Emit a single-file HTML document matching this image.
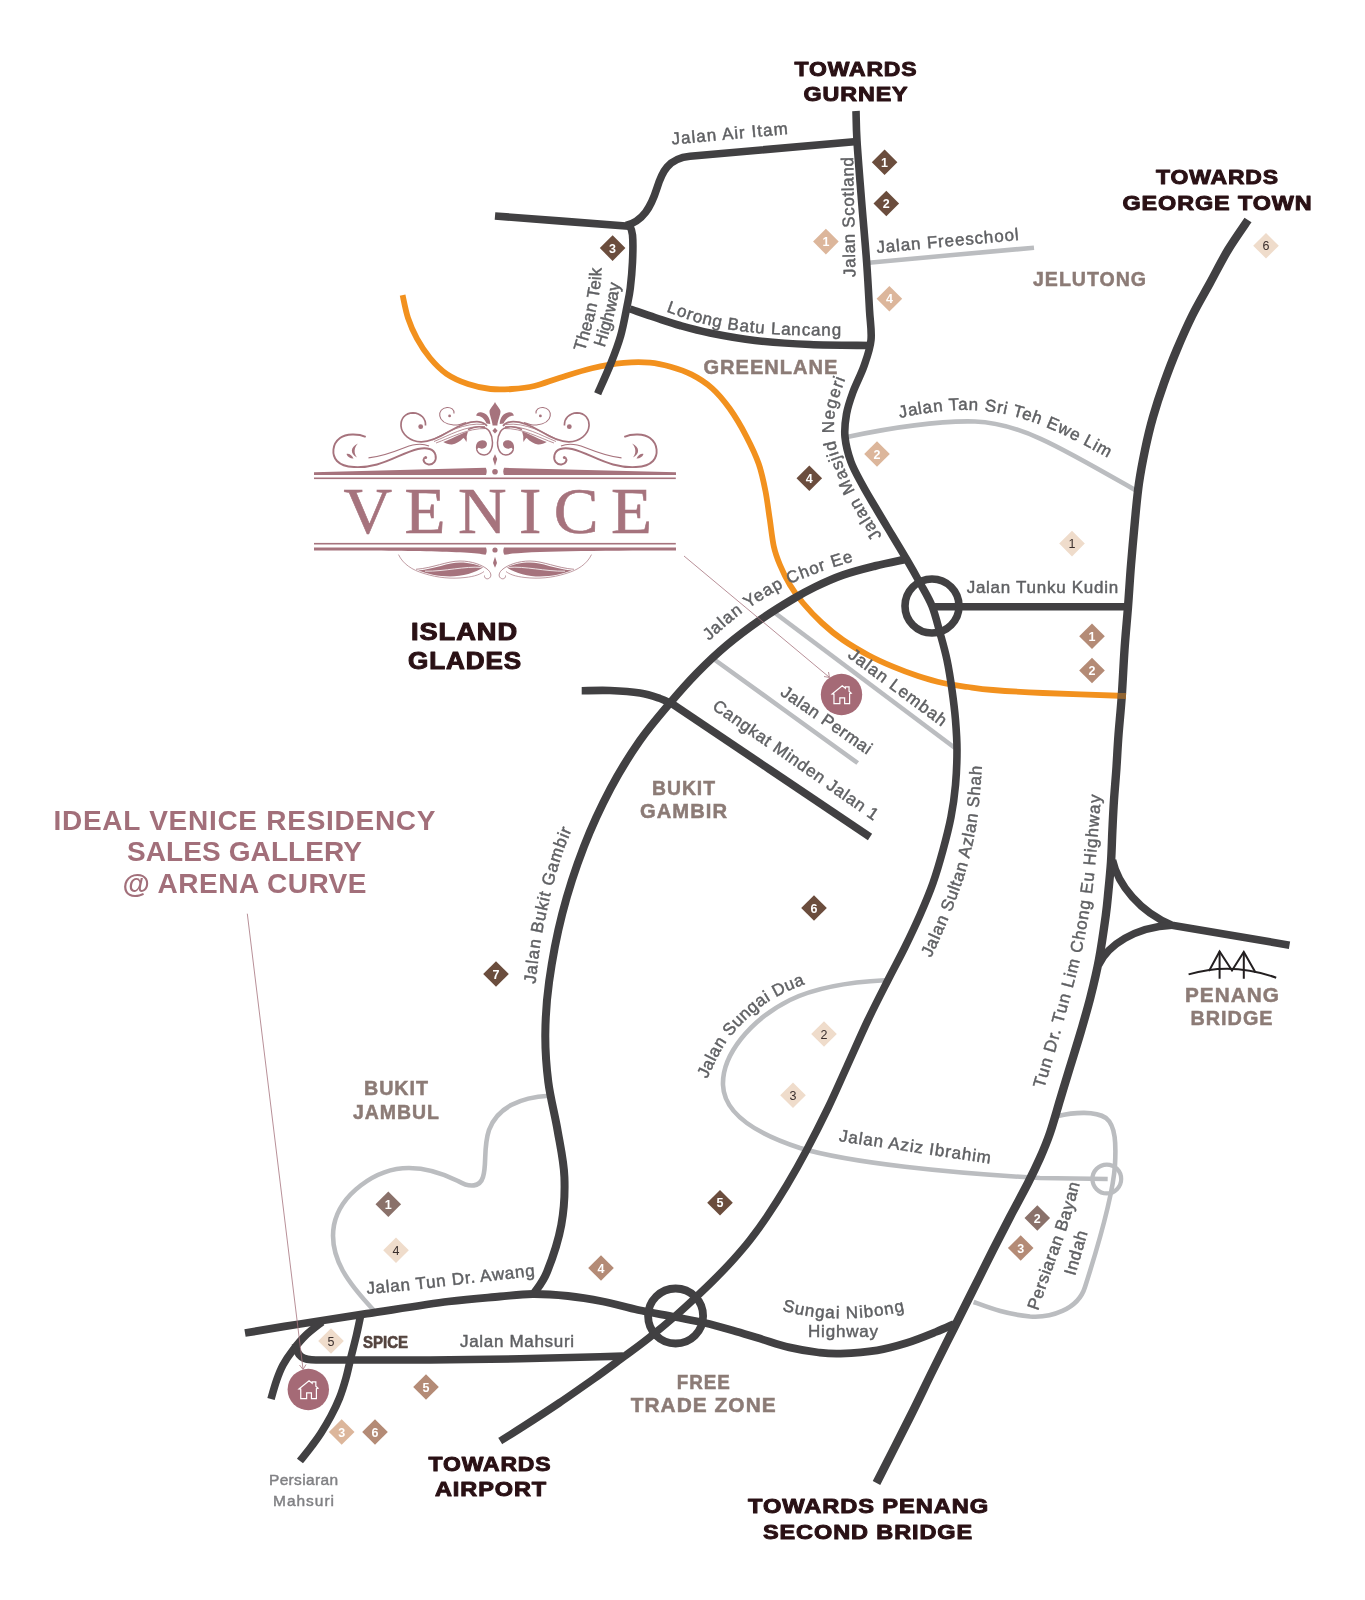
<!DOCTYPE html>
<html lang="en"><head><meta charset="utf-8"><title>Ideal Venice Residency - Location Map</title>
<style>
html,body{margin:0;padding:0;background:#fff;}
svg{display:block;font-family:"Liberation Sans",sans-serif;will-change:transform;}
</style></head><body>
<svg width="1365" height="1600" viewBox="0 0 1365 1600">
<rect width="1365" height="1600" fill="#fff"/>
<defs>
<path id="tp1" d="M666.0 311.5 C671.7 313.4 687.7 319.8 700.0 323.0 C712.3 326.2 725.0 329.0 740.0 331.0 C755.0 333.0 772.8 334.2 790.0 335.0 C807.2 335.8 834.2 335.4 843.0 335.5"/>
<path id="tp2" d="M584.5 352.0 C585.6 348.3 589.0 337.3 591.0 330.0 C593.0 322.7 594.9 315.5 596.5 308.0 C598.1 300.5 599.7 292.0 600.5 285.0 C601.3 278.0 601.3 269.2 601.5 266.0"/>
<path id="tp3" d="M604.5 347.5 C605.6 343.9 609.0 333.2 611.0 326.0 C613.0 318.8 615.0 311.2 616.5 304.0 C618.0 296.8 619.4 286.5 620.0 283.0"/>
<path id="tp4" d="M882.0 536.0 C878.7 530.7 868.2 515.0 862.0 504.0 C855.8 493.0 849.5 480.7 845.0 470.0 C840.5 459.3 836.6 450.0 835.0 440.0 C833.4 430.0 833.7 420.5 835.5 410.0 C837.3 399.5 844.2 382.5 846.0 377.0"/>
<path id="tp5" d="M899.5 418 C935 410.5 965 408 990 411.5 C1030 417 1065 434 1108 458"/>
<path id="tp6" d="M709.0 641.0 C714.5 636.3 729.8 621.8 742.0 613.0 C754.2 604.2 769.5 594.7 782.0 588.0 C794.5 581.3 805.0 577.5 817.0 573.0 C829.0 568.5 847.8 563.0 854.0 561.0"/>
<path id="tp7" d="M931.0 958.0 C934.2 950.8 944.2 929.7 950.0 915.0 C955.8 900.3 961.5 885.8 966.0 870.0 C970.5 854.2 974.3 837.5 977.0 820.0 C979.7 802.5 981.2 774.2 982.0 765.0"/>
<path id="tp8" d="M1044.0 1089.0 C1047.3 1077.5 1057.7 1043.2 1064.0 1020.0 C1070.3 996.8 1077.1 973.3 1082.0 950.0 C1086.9 926.7 1090.3 905.8 1093.5 880.0 C1096.7 854.2 1099.8 809.2 1101.0 795.0"/>
<path id="tp9" d="M535.5 984.0 C536.4 976.7 538.5 954.8 541.0 940.0 C543.5 925.2 547.0 909.2 550.5 895.0 C554.0 880.8 558.3 866.2 562.0 855.0 C565.7 843.8 570.8 832.5 572.5 828.0"/>
<path id="tp10" d="M707.0 1079.0 C710.3 1072.7 718.7 1052.5 727.0 1041.0 C735.3 1029.5 747.8 1017.8 757.0 1010.0 C766.2 1002.2 773.5 998.5 782.0 994.0 C790.5 989.5 803.7 984.8 808.0 983.0"/>
<path id="tp11" d="M367.0 1294.0 C375.8 1293.2 401.2 1291.0 420.0 1289.0 C438.8 1287.0 460.8 1284.2 480.0 1282.0 C499.2 1279.8 525.8 1277.0 535.0 1276.0"/>
<path id="tp12" d="M782 1310.5 Q838 1326 905 1311"/>
<path id="tp13" d="M1038.0 1311.0 C1040.3 1304.2 1047.0 1284.3 1052.0 1270.0 C1057.0 1255.7 1063.3 1239.5 1068.0 1225.0 C1072.7 1210.5 1078.0 1190.0 1080.0 1183.0"/>
<path id="tp14" d="M1075.0 1276.0 C1077.2 1268.5 1085.8 1238.5 1088.0 1231.0"/>
</defs>
<path d="M866.0 263.0 C894.0 260.4 1006.0 250.2 1034.0 247.7" fill="none" stroke="#bbbdc0" stroke-width="4.6" stroke-linecap="butt" stroke-linejoin="round"/>
<path d="M847 437 C890 428 940 420.5 975 421.5 C1020 423 1060 447 1136 490.5" fill="none" stroke="#bbbdc0" stroke-width="4.6" stroke-linecap="butt" stroke-linejoin="round"/>
<path d="M775.0 613.0 C805.0 635.5 925.0 725.5 955.0 748.0" fill="none" stroke="#bbbdc0" stroke-width="4.6" stroke-linecap="butt" stroke-linejoin="round"/>
<path d="M715.0 660.0 C738.8 677.2 833.9 745.8 857.7 763.0" fill="none" stroke="#bbbdc0" stroke-width="4.6" stroke-linecap="butt" stroke-linejoin="round"/>
<path d="M885 980.3 C850 982 815 988 790 1000 C750 1020 722 1055 723 1085 C724 1115 760 1135 800 1148 C850 1163 950 1173 1040 1178 L1107.7 1179" fill="none" stroke="#bbbdc0" stroke-width="4.6" stroke-linecap="butt" stroke-linejoin="round"/>
<path d="M1057 1116.3 C1075 1112 1095 1111 1106 1118 C1116 1126 1116 1145 1115 1165 C1113 1195 1100 1240 1085 1287 C1078 1310 1050 1318 1030 1316.5 C1005 1314 990 1308 973.6 1302" fill="none" stroke="#bbbdc0" stroke-width="4.6" stroke-linecap="butt" stroke-linejoin="round"/>
<circle cx="1106.8" cy="1179" r="14.4" fill="none" stroke="#bbbdc0" stroke-width="4.2"/>
<path d="M549 1095.7 C520 1097 497 1108 489 1130 C483 1148 487 1165 483 1177 C480 1187 470 1188 458 1181 C440 1172 425 1168 409 1168 C375 1168 340 1195 334 1225 C328 1258 350 1285 373.5 1310" fill="none" stroke="#bbbdc0" stroke-width="4.6" stroke-linecap="butt" stroke-linejoin="round"/>
<path d="M402.6 295.2 C403.5 299.0 405.6 310.8 408.0 318.0 C410.4 325.2 413.3 331.9 417.0 338.6 C420.7 345.3 425.1 352.1 430.0 358.0 C434.9 363.9 440.2 369.5 446.5 373.8 C452.8 378.1 460.7 381.5 468.0 384.0 C475.3 386.5 483.2 388.2 490.5 389.0 C497.8 389.8 504.7 389.5 512.0 389.0 C519.3 388.5 526.4 387.9 534.4 386.0 C542.4 384.1 550.4 380.7 560.0 377.7 C569.6 374.7 581.4 370.7 592.0 368.2 C602.6 365.7 614.1 363.7 623.8 362.8 C633.5 361.9 642.2 361.9 650.0 362.6 C657.8 363.3 663.7 364.8 670.6 366.8 C677.5 368.8 684.4 370.8 691.3 374.4 C698.2 377.9 705.5 382.4 711.9 388.1 C718.3 393.8 724.1 400.8 729.8 408.8 C735.5 416.8 741.5 427.1 746.3 436.3 C751.1 445.5 755.5 454.6 758.7 463.8 C761.9 473.0 763.7 482.1 765.5 491.3 C767.3 500.5 768.3 509.6 769.7 518.8 C771.1 528.0 772.1 538.6 773.8 546.3 C775.5 554.0 777.3 558.5 780.0 565.0 C782.7 571.5 786.2 578.7 790.0 585.0 C793.8 591.3 797.7 596.7 803.0 603.0 C808.3 609.3 815.3 616.8 822.0 623.0 C828.7 629.2 835.3 634.7 843.0 640.0 C850.7 645.3 859.7 650.5 868.0 655.0 C876.3 659.5 884.7 663.2 893.0 666.7 C901.3 670.2 909.7 673.3 918.0 676.0 C926.3 678.7 934.7 681.2 943.0 683.0 C951.3 684.8 959.7 685.8 968.0 687.0 C976.3 688.2 980.5 689.0 993.0 690.0 C1005.5 691.0 1020.8 692.0 1043.0 693.0 C1065.2 694.0 1112.2 695.5 1126.0 696.0" fill="none" stroke="#f2911e" stroke-width="5.8" stroke-linecap="butt" stroke-linejoin="round"/>
<path d="M856.0 111.0 C856.2 116.0 856.1 126.2 857.0 141.0 C857.9 155.8 859.9 179.7 861.5 200.0 C863.1 220.3 865.4 244.7 866.7 263.0 C868.0 281.3 868.8 297.2 869.5 310.0 C870.2 322.8 871.9 330.7 871.0 340.0 C870.1 349.3 867.0 357.3 864.0 366.0 C861.0 374.7 855.9 384.0 853.0 392.0 C850.1 400.0 847.8 406.5 846.5 414.0 C845.2 421.5 844.2 429.0 845.0 437.0 C845.8 445.0 848.0 453.8 851.0 462.0 C854.0 470.2 858.7 478.0 863.0 486.0 C867.3 494.0 872.2 501.8 877.0 510.0 C881.8 518.2 887.0 526.7 892.0 535.0 C897.0 543.3 902.3 552.0 907.0 560.0 C911.7 568.0 915.8 575.3 920.0 583.0 C924.2 590.7 928.7 597.7 932.0 606.0 C935.3 614.3 937.5 624.0 940.0 633.0 C942.5 642.0 945.0 650.5 947.0 660.0 C949.0 669.5 950.6 680.0 952.0 690.0 C953.4 700.0 954.7 710.0 955.5 720.0 C956.3 730.0 957.0 739.2 957.0 750.0 C957.0 760.8 956.5 773.8 955.5 785.0 C954.5 796.2 953.1 806.2 951.0 817.0 C948.9 827.8 946.0 839.0 943.0 850.0 C940.0 861.0 936.8 872.2 933.0 883.0 C929.2 893.8 924.7 904.3 920.0 915.0 C915.3 925.7 910.3 936.2 905.0 947.0 C899.7 957.8 894.2 967.8 888.0 980.0 C881.8 992.2 874.9 1005.5 868.0 1020.0 C861.1 1034.5 853.4 1052.3 846.7 1067.0 C840.0 1081.7 834.7 1094.2 828.0 1108.0 C821.3 1121.8 813.5 1137.2 806.7 1150.0 C799.9 1162.8 793.7 1173.8 787.0 1185.0 C780.3 1196.2 772.9 1207.8 766.7 1217.0 C760.5 1226.2 755.6 1232.8 750.0 1240.0 C744.4 1247.2 739.0 1253.3 733.0 1260.0 C727.0 1266.7 720.3 1273.5 713.8 1280.0 C707.3 1286.5 700.4 1293.0 694.0 1299.0 C687.6 1305.0 682.8 1309.5 675.3 1316.0 C667.8 1322.5 657.3 1331.2 648.8 1338.0 C640.3 1344.8 633.3 1349.8 624.2 1356.5 C615.1 1363.2 605.1 1370.8 594.3 1378.5 C583.4 1386.2 570.8 1395.1 559.1 1403.0 C547.4 1410.9 533.8 1419.7 524.0 1426.0 C514.2 1432.3 504.2 1438.5 500.2 1441.0" fill="none" stroke="#414042" stroke-width="7.6" stroke-linecap="butt" stroke-linejoin="round"/>
<path d="M857 141.5 L690 156.3 C668 158.5 662 172 657 188 C651 207 643 221 626 225.5" fill="none" stroke="#414042" stroke-width="7.6" stroke-linecap="butt" stroke-linejoin="round"/>
<path d="M495.0 216.0 C517.3 217.7 606.7 224.6 629.0 226.3" fill="none" stroke="#414042" stroke-width="7.6" stroke-linecap="butt" stroke-linejoin="round"/>
<path d="M629.0 224.0 C629.6 225.8 631.9 228.7 632.5 235.0 C633.1 241.3 632.9 253.2 632.5 262.0 C632.1 270.8 631.2 280.6 630.3 288.0 C629.4 295.4 628.6 298.5 627.0 306.5 C625.4 314.5 623.3 326.6 620.6 336.0 C617.9 345.4 614.8 353.4 611.0 363.0 C607.2 372.6 599.9 388.6 597.7 393.7" fill="none" stroke="#414042" stroke-width="7.6" stroke-linecap="butt" stroke-linejoin="round"/>
<path d="M630.0 309.0 C634.2 310.4 646.7 314.8 655.0 317.5 C663.3 320.2 670.8 322.9 680.0 325.5 C689.2 328.1 697.5 330.5 710.0 333.0 C722.5 335.5 738.3 338.6 755.0 340.5 C771.7 342.4 790.7 343.7 810.0 344.5 C829.3 345.3 860.8 345.3 871.0 345.5" fill="none" stroke="#414042" stroke-width="7.6" stroke-linecap="butt" stroke-linejoin="round"/>
<path d="M907.0 559.0 C901.7 560.2 885.7 563.3 875.0 566.0 C864.3 568.7 853.0 571.5 843.0 575.0 C833.0 578.5 823.3 583.0 815.0 587.0 C806.7 591.0 802.2 593.5 793.0 599.0 C783.8 604.5 771.0 612.3 760.0 620.0 C749.0 627.7 737.5 636.2 727.0 645.0 C716.5 653.8 706.5 663.3 697.0 673.0 C687.5 682.7 679.6 691.7 670.0 703.0 C660.4 714.3 649.5 726.8 639.6 741.0 C629.7 755.2 619.9 770.8 610.6 788.4 C601.3 806.0 592.1 825.5 584.0 846.4 C575.9 867.3 568.0 891.4 562.2 914.0 C556.4 936.6 551.9 961.6 549.1 981.8 C546.3 1002.0 545.4 1018.3 545.3 1035.0 C545.2 1051.7 546.3 1066.2 548.3 1082.0 C550.3 1097.8 554.8 1114.2 557.5 1130.0 C560.2 1145.8 563.8 1161.2 564.4 1177.0 C565.0 1192.8 564.2 1209.2 561.3 1225.0 C558.4 1240.8 551.5 1260.8 547.0 1272.0 C542.5 1283.2 536.6 1289.1 534.5 1292.5" fill="none" stroke="#414042" stroke-width="8" stroke-linecap="butt" stroke-linejoin="round"/>
<path d="M581.7 690.7 C586.4 690.7 600.3 690.1 610.0 690.5 C619.7 690.9 631.7 691.7 640.0 693.0 C648.3 694.3 654.7 696.7 660.0 698.5 C665.3 700.3 670.0 703.1 672.0 704.0" fill="none" stroke="#414042" stroke-width="7.6" stroke-linecap="butt" stroke-linejoin="round"/>
<path d="M668.0 701.0 C701.7 723.7 836.3 814.3 870.0 837.0" fill="none" stroke="#414042" stroke-width="7.6" stroke-linecap="butt" stroke-linejoin="round"/>
<path d="M932.0 606.8 C964.7 606.8 1095.3 606.8 1128.0 606.8" fill="none" stroke="#414042" stroke-width="7.4" stroke-linecap="butt" stroke-linejoin="round"/>
<circle cx="932" cy="606" r="27" fill="none" stroke="#414042" stroke-width="7.6"/>
<path d="M1248.0 220.0 C1244.7 225.0 1234.3 239.5 1228.0 250.0 C1221.7 260.5 1216.0 272.0 1210.0 283.0 C1204.0 294.0 1197.5 304.8 1192.0 316.0 C1186.5 327.2 1181.4 338.8 1176.7 350.0 C1172.0 361.2 1168.0 371.8 1164.0 383.0 C1160.0 394.2 1156.2 405.8 1153.0 417.0 C1149.8 428.2 1147.3 439.0 1145.0 450.0 C1142.7 461.0 1140.7 471.3 1139.0 483.0 C1137.3 494.7 1136.3 506.3 1135.0 520.0 C1133.7 533.7 1132.2 550.5 1131.0 565.0 C1129.8 579.5 1129.1 592.8 1128.0 607.0 C1126.9 621.2 1125.5 635.0 1124.5 650.0 C1123.5 665.0 1122.7 682.8 1121.7 697.0 C1120.7 711.2 1119.4 723.3 1118.5 735.0 C1117.6 746.7 1117.2 756.2 1116.5 767.0 C1115.8 777.8 1114.7 789.5 1114.0 800.0 C1113.3 810.5 1112.9 819.7 1112.4 830.0 C1111.9 840.3 1111.7 852.0 1111.0 862.0 C1110.3 872.0 1109.4 881.0 1108.5 890.0 C1107.6 899.0 1107.3 904.4 1105.7 916.0 C1104.1 927.6 1101.5 946.0 1099.0 959.5 C1096.5 973.0 1093.5 985.1 1090.5 997.0 C1087.5 1008.9 1084.4 1019.3 1081.0 1031.0 C1077.6 1042.7 1073.5 1055.5 1070.0 1067.0 C1066.5 1078.5 1063.3 1089.0 1060.0 1100.0 C1056.7 1111.0 1053.3 1123.3 1050.0 1133.0 C1046.7 1142.7 1043.7 1149.7 1040.0 1158.0 C1036.3 1166.3 1033.0 1173.2 1028.0 1183.0 C1023.0 1192.8 1015.8 1205.8 1010.0 1217.0 C1004.2 1228.2 999.2 1237.8 993.0 1250.0 C986.8 1262.2 979.7 1276.7 973.0 1290.0 C966.3 1303.3 959.7 1316.7 953.0 1330.0 C946.3 1343.3 940.2 1355.5 933.0 1370.0 C925.8 1384.5 919.4 1398.2 910.0 1417.0 C900.6 1435.8 882.1 1472.0 876.5 1483.0" fill="none" stroke="#414042" stroke-width="8.4" stroke-linecap="butt" stroke-linejoin="round"/>
<path d="M1112.5 860 C1118 885 1140 912 1172 925.2 L1289.5 945.2" fill="none" stroke="#414042" stroke-width="7.6" stroke-linecap="butt" stroke-linejoin="round"/>
<path d="M1098.5 965 C1108 945 1135 927 1172 925.2" fill="none" stroke="#414042" stroke-width="7.6" stroke-linecap="butt" stroke-linejoin="round"/>
<path d="M245.0 1333.0 C254.2 1331.5 279.7 1327.2 300.0 1324.0 C320.3 1320.8 342.0 1317.5 366.7 1313.7 C391.4 1310.0 426.2 1304.4 448.4 1301.5 C470.6 1298.6 485.9 1297.8 500.0 1296.5 C514.0 1295.2 521.4 1294.1 532.7 1294.0 C544.0 1293.9 556.3 1294.8 568.0 1296.0 C579.7 1297.2 591.3 1299.2 603.0 1301.5 C614.7 1303.8 626.2 1307.4 638.2 1310.0 C650.2 1312.6 663.9 1314.8 675.0 1317.0 C686.1 1319.2 695.3 1320.8 705.0 1323.0 C714.7 1325.2 723.8 1327.9 733.0 1330.5 C742.2 1333.1 750.6 1335.8 760.0 1338.6 C769.4 1341.4 779.5 1345.1 789.3 1347.4 C799.1 1349.7 810.0 1351.5 818.6 1352.5 C827.2 1353.5 830.8 1354.0 840.6 1353.6 C850.4 1353.2 866.2 1352.1 877.2 1350.3 C888.2 1348.5 896.7 1346.0 906.5 1343.0 C916.3 1340.0 927.9 1335.2 935.8 1332.0 C943.7 1328.8 951.0 1325.3 954.0 1324.0" fill="none" stroke="#414042" stroke-width="7.8" stroke-linecap="butt" stroke-linejoin="round"/>
<circle cx="675.6" cy="1316" r="27.5" fill="none" stroke="#414042" stroke-width="7.8"/>
<path d="M322.0 1322.0 C319.2 1324.3 309.8 1331.3 305.0 1336.0 C300.2 1340.7 296.7 1345.2 293.0 1350.0 C289.3 1354.8 285.7 1360.0 283.0 1365.0 C280.3 1370.0 278.7 1374.3 276.7 1380.0 C274.7 1385.7 271.9 1395.8 271.0 1399.0" fill="none" stroke="#414042" stroke-width="7.6" stroke-linecap="butt" stroke-linejoin="round"/>
<path d="M295.5 1344 C297 1357 303 1360 316 1360 L430 1360 L520 1358.8 L600 1356.8 L623 1356.1" fill="none" stroke="#414042" stroke-width="7.6" stroke-linecap="butt" stroke-linejoin="round"/>
<path d="M361.0 1314.0 C360.2 1317.5 358.2 1327.8 356.5 1335.0 C354.8 1342.2 352.8 1349.8 351.0 1357.0 C349.2 1364.2 347.9 1371.2 346.0 1378.0 C344.1 1384.8 342.0 1391.7 339.5 1398.0 C337.0 1404.3 334.1 1410.2 331.0 1416.0 C327.9 1421.8 324.3 1427.8 321.0 1433.0 C317.7 1438.2 314.5 1442.3 311.0 1447.0 C307.5 1451.7 301.8 1458.7 300.0 1461.0" fill="none" stroke="#414042" stroke-width="7.6" stroke-linecap="butt" stroke-linejoin="round"/>
<path d="M1117.5 695.8 L1126 696" stroke="#f2911e" stroke-width="5.8" opacity="0.45" fill="none"/>
<path d="M684 556 L829 677" stroke="#a6737d" stroke-width="0.8" fill="none"/>
<path d="M824 676.5 L829.5 677.5 L828.5 672" stroke="#a6737d" stroke-width="0.8" fill="none"/>
<path d="M247.3 913.7 L303 1369" stroke="#a6737d" stroke-width="0.8" fill="none"/>
<path d="M299.5 1365 L303 1369.5 L306 1364.5" stroke="#a6737d" stroke-width="0.8" fill="none"/>
<circle cx="841.5" cy="694.5" r="20.7" fill="#a56a76"/>
<path transform="translate(841.5 694.5) scale(0.92)" d="M-10.2 -0.6 L0.8 -9.6 L4.2 -6.8 L4.2 -8.2 L8.2 -8.2 L8.2 -3.5 L10.6 -1.4 L8.8 -0.8 L8.8 10 L3.4 10 L3.4 3.6 L-1.8 3.6 L-1.8 10 L-8.2 10 L-8.2 -0.4 Z" fill="none" stroke="#fff" stroke-width="1.3" stroke-linejoin="miter"/>
<circle cx="308.3" cy="1389.5" r="20.7" fill="#a56a76"/>
<path transform="translate(308.3 1389.5) scale(0.92)" d="M-10.2 -0.6 L0.8 -9.6 L4.2 -6.8 L4.2 -8.2 L8.2 -8.2 L8.2 -3.5 L10.6 -1.4 L8.8 -0.8 L8.8 10 L3.4 10 L3.4 3.6 L-1.8 3.6 L-1.8 10 L-8.2 10 L-8.2 -0.4 Z" fill="none" stroke="#fff" stroke-width="1.3" stroke-linejoin="miter"/>
<path d="M884.6 149.5 L897.4 162.3 L884.6 175.1 L871.8 162.3Z" fill="#6b4d3d"/>
<text x="884.6" y="166.8" font-size="12.5" fill="#ffffff" font-weight="bold" text-anchor="middle">1</text>
<path d="M886.3 190.7 L899.1 203.5 L886.3 216.3 L873.5 203.5Z" fill="#6b4d3d"/>
<text x="886.3" y="208.0" font-size="12.5" fill="#ffffff" font-weight="bold" text-anchor="middle">2</text>
<path d="M612.6 235.3 L625.4 248.1 L612.6 260.9 L599.8 248.1Z" fill="#6b4d3d"/>
<text x="612.6" y="252.6" font-size="12.5" fill="#ffffff" font-weight="bold" text-anchor="middle">3</text>
<path d="M825.9 228.8 L838.7 241.6 L825.9 254.4 L813.1 241.6Z" fill="#dcb69b"/>
<text x="825.9" y="246.1" font-size="12.5" fill="#ffffff" font-weight="bold" text-anchor="middle">1</text>
<path d="M889.4 286.0 L902.2 298.8 L889.4 311.6 L876.6 298.8Z" fill="#dcb69b"/>
<text x="889.4" y="303.3" font-size="12.5" fill="#ffffff" font-weight="bold" text-anchor="middle">4</text>
<path d="M1266.0 232.9 L1278.8 245.7 L1266.0 258.5 L1253.2 245.7Z" fill="#efdccb"/>
<text x="1266.0" y="250.2" font-size="12.5" fill="#3a2e2c" font-weight="normal" text-anchor="middle">6</text>
<path d="M809.3 465.5 L822.1 478.3 L809.3 491.1 L796.5 478.3Z" fill="#6b4d3d"/>
<text x="809.3" y="482.8" font-size="12.5" fill="#ffffff" font-weight="bold" text-anchor="middle">4</text>
<path d="M877.0 441.2 L889.8 454.0 L877.0 466.8 L864.2 454.0Z" fill="#dcb69b"/>
<text x="877.0" y="458.5" font-size="12.5" fill="#ffffff" font-weight="bold" text-anchor="middle">2</text>
<path d="M1072.0 530.8 L1084.8 543.6 L1072.0 556.4 L1059.2 543.6Z" fill="#efdccb"/>
<text x="1072.0" y="548.1" font-size="12.5" fill="#3a2e2c" font-weight="normal" text-anchor="middle">1</text>
<path d="M1092.0 623.4 L1104.8 636.2 L1092.0 649.0 L1079.2 636.2Z" fill="#b48b76"/>
<text x="1092.0" y="640.7" font-size="12.5" fill="#ffffff" font-weight="bold" text-anchor="middle">1</text>
<path d="M1092.0 657.7 L1104.8 670.5 L1092.0 683.3 L1079.2 670.5Z" fill="#b48b76"/>
<text x="1092.0" y="675.0" font-size="12.5" fill="#ffffff" font-weight="bold" text-anchor="middle">2</text>
<path d="M814.0 895.2 L826.8 908.0 L814.0 920.8 L801.2 908.0Z" fill="#6b4d3d"/>
<text x="814.0" y="912.5" font-size="12.5" fill="#ffffff" font-weight="bold" text-anchor="middle">6</text>
<path d="M496.0 961.2 L508.8 974.0 L496.0 986.8 L483.2 974.0Z" fill="#6b4d3d"/>
<text x="496.0" y="978.5" font-size="12.5" fill="#ffffff" font-weight="bold" text-anchor="middle">7</text>
<path d="M824.0 1021.2 L836.8 1034.0 L824.0 1046.8 L811.2 1034.0Z" fill="#efdccb"/>
<text x="824.0" y="1038.5" font-size="12.5" fill="#3a2e2c" font-weight="normal" text-anchor="middle">2</text>
<path d="M793.0 1082.5 L805.8 1095.3 L793.0 1108.1 L780.2 1095.3Z" fill="#efdccb"/>
<text x="793.0" y="1099.8" font-size="12.5" fill="#3a2e2c" font-weight="normal" text-anchor="middle">3</text>
<path d="M720.0 1189.9 L732.8 1202.7 L720.0 1215.5 L707.2 1202.7Z" fill="#6b4d3d"/>
<text x="720.0" y="1207.2" font-size="12.5" fill="#ffffff" font-weight="bold" text-anchor="middle">5</text>
<path d="M1037.3 1205.2 L1050.1 1218.0 L1037.3 1230.8 L1024.5 1218.0Z" fill="#8a716a"/>
<text x="1037.3" y="1222.5" font-size="12.5" fill="#ffffff" font-weight="bold" text-anchor="middle">2</text>
<path d="M1020.7 1235.2 L1033.5 1248.0 L1020.7 1260.8 L1007.9 1248.0Z" fill="#b48b76"/>
<text x="1020.7" y="1252.5" font-size="12.5" fill="#ffffff" font-weight="bold" text-anchor="middle">3</text>
<path d="M601.0 1255.2 L613.8 1268.0 L601.0 1280.8 L588.2 1268.0Z" fill="#b48b76"/>
<text x="601.0" y="1272.5" font-size="12.5" fill="#ffffff" font-weight="bold" text-anchor="middle">4</text>
<path d="M388.3 1191.5 L401.1 1204.3 L388.3 1217.1 L375.5 1204.3Z" fill="#8a716a"/>
<text x="388.3" y="1208.8" font-size="12.5" fill="#ffffff" font-weight="bold" text-anchor="middle">1</text>
<path d="M396.0 1237.5 L408.8 1250.3 L396.0 1263.1 L383.2 1250.3Z" fill="#efdccb"/>
<text x="396.0" y="1254.8" font-size="12.5" fill="#3a2e2c" font-weight="normal" text-anchor="middle">4</text>
<path d="M331.0 1328.2 L343.8 1341.0 L331.0 1353.8 L318.2 1341.0Z" fill="#efdccb"/>
<text x="331.0" y="1345.5" font-size="12.5" fill="#3a2e2c" font-weight="normal" text-anchor="middle">5</text>
<path d="M426.0 1374.2 L438.8 1387.0 L426.0 1399.8 L413.2 1387.0Z" fill="#b48b76"/>
<text x="426.0" y="1391.5" font-size="12.5" fill="#ffffff" font-weight="bold" text-anchor="middle">5</text>
<path d="M341.7 1419.2 L354.5 1432.0 L341.7 1444.8 L328.9 1432.0Z" fill="#dcb69b"/>
<text x="341.7" y="1436.5" font-size="12.5" fill="#ffffff" font-weight="bold" text-anchor="middle">3</text>
<path d="M375.0 1419.2 L387.8 1432.0 L375.0 1444.8 L362.2 1432.0Z" fill="#b48b76"/>
<text x="375.0" y="1436.5" font-size="12.5" fill="#ffffff" font-weight="bold" text-anchor="middle">6</text>
<text x="856" y="76" font-size="21" fill="#2a1115" font-weight="bold" text-anchor="middle" textLength="123" lengthAdjust="spacingAndGlyphs" letter-spacing="0.8" stroke="#2a1115" stroke-width="1" stroke-linejoin="round">TOWARDS</text>
<text x="856" y="101" font-size="21" fill="#2a1115" font-weight="bold" text-anchor="middle" textLength="105" lengthAdjust="spacingAndGlyphs" letter-spacing="0.8" stroke="#2a1115" stroke-width="1" stroke-linejoin="round">GURNEY</text>
<text x="1217.5" y="183.5" font-size="21" fill="#2a1115" font-weight="bold" text-anchor="middle" textLength="123" lengthAdjust="spacingAndGlyphs" letter-spacing="0.8" stroke="#2a1115" stroke-width="1" stroke-linejoin="round">TOWARDS</text>
<text x="1217.5" y="209.5" font-size="21" fill="#2a1115" font-weight="bold" text-anchor="middle" textLength="190" lengthAdjust="spacingAndGlyphs" letter-spacing="0.8" stroke="#2a1115" stroke-width="1" stroke-linejoin="round">GEORGE TOWN</text>
<text x="464.5" y="640" font-size="23" fill="#2a1115" font-weight="bold" text-anchor="middle" textLength="107" lengthAdjust="spacingAndGlyphs" letter-spacing="0.8" stroke="#2a1115" stroke-width="1" stroke-linejoin="round">ISLAND</text>
<text x="465" y="669" font-size="23" fill="#2a1115" font-weight="bold" text-anchor="middle" textLength="114" lengthAdjust="spacingAndGlyphs" letter-spacing="0.8" stroke="#2a1115" stroke-width="1" stroke-linejoin="round">GLADES</text>
<text x="490" y="1471" font-size="21" fill="#2a1115" font-weight="bold" text-anchor="middle" textLength="123" lengthAdjust="spacingAndGlyphs" letter-spacing="0.8" stroke="#2a1115" stroke-width="1" stroke-linejoin="round">TOWARDS</text>
<text x="491" y="1496" font-size="21" fill="#2a1115" font-weight="bold" text-anchor="middle" textLength="112" lengthAdjust="spacingAndGlyphs" letter-spacing="0.8" stroke="#2a1115" stroke-width="1" stroke-linejoin="round">AIRPORT</text>
<text x="868.5" y="1513" font-size="21" fill="#2a1115" font-weight="bold" text-anchor="middle" textLength="241" lengthAdjust="spacingAndGlyphs" letter-spacing="0.8" stroke="#2a1115" stroke-width="1" stroke-linejoin="round">TOWARDS PENANG</text>
<text x="868" y="1538.7" font-size="21" fill="#2a1115" font-weight="bold" text-anchor="middle" textLength="210" lengthAdjust="spacingAndGlyphs" letter-spacing="0.8" stroke="#2a1115" stroke-width="1" stroke-linejoin="round">SECOND BRIDGE</text>
<text x="1090" y="286" font-size="20" fill="#8c7b76" font-weight="bold" text-anchor="middle" textLength="114" lengthAdjust="spacingAndGlyphs" letter-spacing="1" stroke="#8c7b76" stroke-width="0.5">JELUTONG</text>
<text x="771" y="374" font-size="20" fill="#8c7b76" font-weight="bold" text-anchor="middle" textLength="135" lengthAdjust="spacingAndGlyphs" letter-spacing="1" stroke="#8c7b76" stroke-width="0.5">GREENLANE</text>
<text x="684" y="795" font-size="20" fill="#8c7b76" font-weight="bold" text-anchor="middle" textLength="64" lengthAdjust="spacingAndGlyphs" letter-spacing="1" stroke="#8c7b76" stroke-width="0.5">BUKIT</text>
<text x="684" y="818" font-size="20" fill="#8c7b76" font-weight="bold" text-anchor="middle" textLength="88" lengthAdjust="spacingAndGlyphs" letter-spacing="1" stroke="#8c7b76" stroke-width="0.5">GAMBIR</text>
<text x="396.5" y="1095.3" font-size="20" fill="#8c7b76" font-weight="bold" text-anchor="middle" textLength="65" lengthAdjust="spacingAndGlyphs" letter-spacing="1" stroke="#8c7b76" stroke-width="0.5">BUKIT</text>
<text x="396.5" y="1118.7" font-size="20" fill="#8c7b76" font-weight="bold" text-anchor="middle" textLength="87" lengthAdjust="spacingAndGlyphs" letter-spacing="1" stroke="#8c7b76" stroke-width="0.5">JAMBUL</text>
<text x="703.7" y="1388.7" font-size="20" fill="#8c7b76" font-weight="bold" text-anchor="middle" textLength="54" lengthAdjust="spacingAndGlyphs" letter-spacing="1" stroke="#8c7b76" stroke-width="0.5">FREE</text>
<text x="703.7" y="1412" font-size="20" fill="#8c7b76" font-weight="bold" text-anchor="middle" textLength="146" lengthAdjust="spacingAndGlyphs" letter-spacing="1" stroke="#8c7b76" stroke-width="0.5">TRADE ZONE</text>
<text x="1232.4" y="1002" font-size="20" fill="#8c7b76" font-weight="bold" text-anchor="middle" textLength="95" lengthAdjust="spacingAndGlyphs" letter-spacing="1" stroke="#8c7b76" stroke-width="0.5">PENANG</text>
<text x="1232" y="1025.2" font-size="20" fill="#8c7b76" font-weight="bold" text-anchor="middle" textLength="83" lengthAdjust="spacingAndGlyphs" letter-spacing="1" stroke="#8c7b76" stroke-width="0.5">BRIDGE</text>
<text x="244.5" y="830.3" font-size="28" fill="#a26f7a" font-weight="bold" text-anchor="middle" textLength="382" lengthAdjust="spacing" >IDEAL VENICE RESIDENCY</text>
<text x="244.5" y="861" font-size="28" fill="#a26f7a" font-weight="bold" text-anchor="middle" textLength="235" lengthAdjust="spacing" >SALES GALLERY</text>
<text x="244.5" y="893" font-size="28" fill="#a26f7a" font-weight="bold" text-anchor="middle" textLength="244" lengthAdjust="spacing" >@ ARENA CURVE</text>
<text x="966.7" y="593.3" font-size="17" fill="#5f6063" font-weight="normal" text-anchor="start" textLength="151.5" lengthAdjust="spacing"  stroke="#5f6063" stroke-width="0.45">Jalan Tunku Kudin</text>
<text x="460" y="1347" font-size="17" fill="#5f6063" font-weight="normal" text-anchor="start" textLength="114" lengthAdjust="spacing"  stroke="#5f6063" stroke-width="0.45">Jalan Mahsuri</text>
<text x="363" y="1348" font-size="16.3" fill="#54443f" font-weight="bold" text-anchor="start" textLength="45" lengthAdjust="spacingAndGlyphs" stroke="#54443f" stroke-width="0.6">SPICE</text>
<text x="303.5" y="1485" font-size="15.5" fill="#808184" font-weight="normal" text-anchor="middle" textLength="69" lengthAdjust="spacing"  stroke="#808184" stroke-width="0.45">Persiaran</text>
<text x="303.5" y="1506" font-size="15.5" fill="#808184" font-weight="normal" text-anchor="middle" textLength="61" lengthAdjust="spacing"  stroke="#808184" stroke-width="0.45">Mahsuri</text>
<text x="843" y="1337" font-size="17" fill="#5f6063" font-weight="normal" text-anchor="middle" textLength="70" lengthAdjust="spacing"  stroke="#5f6063" stroke-width="0.45">Highway</text>
<text x="672" y="144.5" font-size="17" fill="#5f6063" font-weight="normal" text-anchor="start" textLength="116.5" lengthAdjust="spacing" transform="rotate(-5.17 672 144.5)"  stroke="#5f6063" stroke-width="0.45">Jalan Air Itam</text>
<text x="855.5" y="277" font-size="17" fill="#5f6063" font-weight="normal" text-anchor="start" textLength="120.0" lengthAdjust="spacing" transform="rotate(-91.19 855.5 277)"  stroke="#5f6063" stroke-width="0.45">Jalan Scotland</text>
<text x="877" y="253" font-size="17" fill="#5f6063" font-weight="normal" text-anchor="start" textLength="142.6" lengthAdjust="spacing" transform="rotate(-5.23 877 253)"  stroke="#5f6063" stroke-width="0.45">Jalan Freeschool</text>
<text x="847" y="656.7" font-size="17" fill="#5f6063" font-weight="normal" text-anchor="start" textLength="117.9" lengthAdjust="spacing" transform="rotate(36.59 847 656.7)"  stroke="#5f6063" stroke-width="0.45">Jalan Lembah</text>
<text x="779.5" y="694.5" font-size="17" fill="#5f6063" font-weight="normal" text-anchor="start" textLength="106.4" lengthAdjust="spacing" transform="rotate(34.66 779.5 694.5)"  stroke="#5f6063" stroke-width="0.45">Jalan Permai</text>
<text x="711.5" y="708.5" font-size="17" fill="#5f6063" font-weight="normal" text-anchor="start" textLength="197.2" lengthAdjust="spacing" transform="rotate(34.78 711.5 708.5)"  stroke="#5f6063" stroke-width="0.45">Cangkat Minden Jalan 1</text>
<text x="838.5" y="1141" font-size="17" fill="#5f6063" font-weight="normal" text-anchor="start" textLength="153.2" lengthAdjust="spacing" transform="rotate(8.45 838.5 1141)"  stroke="#5f6063" stroke-width="0.45">Jalan Aziz Ibrahim</text>
<text font-size="17" fill="#5f6063" stroke="#5f6063" stroke-width="0.45" font-weight="normal" dy="0"><textPath href="#tp1" startOffset="0" textLength="178" lengthAdjust="spacing">Lorong Batu Lancang</textPath></text>
<text font-size="17" fill="#5f6063" stroke="#5f6063" stroke-width="0.45" font-weight="normal" dy="0"><textPath href="#tp2" startOffset="0" textLength="86" lengthAdjust="spacing">Thean Teik</textPath></text>
<text font-size="17" fill="#5f6063" stroke="#5f6063" stroke-width="0.45" font-weight="normal" dy="0"><textPath href="#tp3" startOffset="0" textLength="66" lengthAdjust="spacing">Highway</textPath></text>
<text font-size="17" fill="#5f6063" stroke="#5f6063" stroke-width="0.45" font-weight="normal" dy="0"><textPath href="#tp4" startOffset="0" textLength="170" lengthAdjust="spacing">Jalan Masjid Negeri</textPath></text>
<text font-size="17" fill="#5f6063" stroke="#5f6063" stroke-width="0.45" font-weight="normal" dy="0"><textPath href="#tp5" startOffset="0" textLength="219" lengthAdjust="spacing">Jalan Tan Sri Teh Ewe Lim</textPath></text>
<text font-size="17" fill="#5f6063" stroke="#5f6063" stroke-width="0.45" font-weight="normal" dy="0"><textPath href="#tp6" startOffset="0" textLength="167" lengthAdjust="spacing">Jalan Yeap Chor Ee</textPath></text>
<text font-size="17" fill="#5f6063" stroke="#5f6063" stroke-width="0.45" font-weight="normal" dy="0"><textPath href="#tp7" startOffset="0" textLength="200" lengthAdjust="spacing">Jalan Sultan Azlan Shah</textPath></text>
<text font-size="17" fill="#5f6063" stroke="#5f6063" stroke-width="0.45" font-weight="normal" dy="0"><textPath href="#tp8" startOffset="0" textLength="300" lengthAdjust="spacing">Tun Dr. Tun Lim Chong Eu Highway</textPath></text>
<text font-size="17" fill="#5f6063" stroke="#5f6063" stroke-width="0.45" font-weight="normal" dy="0"><textPath href="#tp9" startOffset="0" textLength="159" lengthAdjust="spacing">Jalan Bukit Gambir</textPath></text>
<text font-size="17" fill="#5f6063" stroke="#5f6063" stroke-width="0.45" font-weight="normal" dy="0"><textPath href="#tp10" startOffset="0" textLength="141" lengthAdjust="spacing">Jalan Sungai Dua</textPath></text>
<text font-size="17" fill="#5f6063" stroke="#5f6063" stroke-width="0.45" font-weight="normal" dy="0"><textPath href="#tp11" startOffset="0" textLength="169" lengthAdjust="spacing">Jalan Tun Dr. Awang</textPath></text>
<text font-size="17" fill="#5f6063" stroke="#5f6063" stroke-width="0.45" font-weight="normal" dy="0"><textPath href="#tp12" startOffset="0" textLength="124" lengthAdjust="spacing">Sungai Nibong</textPath></text>
<text font-size="17" fill="#5f6063" stroke="#5f6063" stroke-width="0.45" font-weight="normal" dy="0"><textPath href="#tp13" startOffset="0" textLength="134" lengthAdjust="spacing">Persiaran Bayan</textPath></text>
<text font-size="17" fill="#5f6063" stroke="#5f6063" stroke-width="0.45" font-weight="normal" dy="0"><textPath href="#tp14" startOffset="0" textLength="45" lengthAdjust="spacing">Indah</textPath></text>
<g stroke="#231f20" fill="none" stroke-width="2"><path d="M1188.6 974.4 Q1232 961.5 1276.2 977.8"/><path d="M1219.6 951.5 L1219.6 978.8 M1243.8 952 L1243.8 978.8"/><path d="M1209 971 L1219.6 951.5 L1232 970.5 L1243.8 952 L1255.5 972.5"/></g>
<g><path d="M314 472.2 L485.8 467.8 C487 470 487 472.6 486 474.9 L314 474.9Z" fill="#a6737d"/><path d="M365.7 436.8 C358 433.5 346 433.5 340 438 C332 444 331.5 455 337 461 C344 468.5 362 468.5 377 464.5 C392 460.5 405 452 418 449 C427 447 434 449 435.5 455 C437 461 433 465 428.5 464.5 C424 464 422.5 460 424.5 457.5" fill="none" stroke="#a6737d" stroke-width="1.9"/><circle cx="425.6" cy="457.6" r="1.5" fill="#a6737d"/><path d="M368.5 457.8 C380 457 395 451.5 405 447.5 C415 443.5 423 443.5 429 446" fill="none" stroke="#a6737d" stroke-width="1.2"/><path d="M358 443.5 C350 447 350 454 357 457.5 C353.5 453 354 447.5 358 443.5Z" fill="#a6737d"/><path d="M346.5 454 C349 453.3 352 455.5 353.5 458.5 C350.5 458.7 347.5 457 346.5 454Z" fill="#a6737d"/><path d="M425.5 425.5 C426 419 421 413 413 412.8 C405 412.8 400.5 419 401 426 C401.5 434 410 441.5 421 441.8 C431 442 440 437 449 431.5 C460 425 470 421 479 421.8 C483 422.2 485.5 424 487 426" fill="none" stroke="#a6737d" stroke-width="1.7"/><circle cx="420.7" cy="426.7" r="2.4" fill="#a6737d"/><path d="M432 440 C445 433 465 422 484 424.5 M434 441.5 C448 436 466 425 485 426.5 M436 443 C450 438 468 428 486 428.5" fill="none" stroke="#a6737d" stroke-width="0.8"/><path d="M454 413.5 C454.5 409.5 451 407.3 447 407.5 C442 408 439 411.5 439.8 416 C440.5 421 446 424 453.5 425 C458 425.5 462 424 466 422.5" fill="none" stroke="#a6737d" stroke-width="1.1"/><circle cx="449.6" cy="415.9" r="1.4" fill="#a6737d"/><path d="M443.3 442 C450 440 459 434 468 431.5 C467.3 434 466.5 436 466.7 437.5 C467 439.5 466.6 441 466.2 442 C465.5 440 464.5 438.5 463.3 438 C460 441.5 456 444 452 444.4 C449 444.6 446 443.6 443.3 442Z" fill="#a6737d"/><path d="M468 429.5 C477 425.5 486 426 489.5 431.5 C493.5 438 493.5 447 489.5 452.5 C486 456.5 479 455.5 476.8 450" fill="none" stroke="#a6737d" stroke-width="1.5"/><path d="M476.2 450 C475 444 478 440.3 482.5 440.3 C486.5 440.3 487.8 443.5 486.5 446 C485 448.8 481 449.3 478.5 447.8 C477.5 448.5 477.2 449.5 477.4 450.5Z" fill="#a6737d"/><path d="M490.3 424 C490.3 418 486.5 412.8 481 412.3 C478 412 476.5 413.5 476.2 415.8 C480.5 415.5 484.5 418.5 486.5 423.5Z" fill="#a6737d"/><path d="M314 547.5 L486 547.5 C487 550 487 552.5 485.6 554.8 C470 551.2 400 550.6 314 550.5Z" fill="#a6737d"/><path d="M418 570.5 C435 569 448 562.6 460 562.6 C470 562.6 478 565 483 567.5 C476 572.5 462 576.5 450 576.5 C438 576.5 427 573.5 418 570.5Z" fill="#a6737d"/><path d="M425 571.2 C445 571.5 465 566 481.5 567.4" fill="none" stroke="#fff" stroke-width="0.8"/><path d="M398.5 554.6 C403 564 412 570 424 573.5 C438 578 452 579 465 577.5 C475 576.5 481 574 484 571.5" fill="none" stroke="#a6737d" stroke-width="0.7"/><path d="M416 569.3 C433 568 447 561 460 561 C472 561 482 565 487 569 C491 572 492 576 489.5 578 C487 580 484 578 484.5 575.5" fill="none" stroke="#a6737d" stroke-width="0.8"/></g>
<g transform="translate(990 0) scale(-1 1)"><path d="M314 472.2 L485.8 467.8 C487 470 487 472.6 486 474.9 L314 474.9Z" fill="#a6737d"/><path d="M365.7 436.8 C358 433.5 346 433.5 340 438 C332 444 331.5 455 337 461 C344 468.5 362 468.5 377 464.5 C392 460.5 405 452 418 449 C427 447 434 449 435.5 455 C437 461 433 465 428.5 464.5 C424 464 422.5 460 424.5 457.5" fill="none" stroke="#a6737d" stroke-width="1.9"/><circle cx="425.6" cy="457.6" r="1.5" fill="#a6737d"/><path d="M368.5 457.8 C380 457 395 451.5 405 447.5 C415 443.5 423 443.5 429 446" fill="none" stroke="#a6737d" stroke-width="1.2"/><path d="M358 443.5 C350 447 350 454 357 457.5 C353.5 453 354 447.5 358 443.5Z" fill="#a6737d"/><path d="M346.5 454 C349 453.3 352 455.5 353.5 458.5 C350.5 458.7 347.5 457 346.5 454Z" fill="#a6737d"/><path d="M425.5 425.5 C426 419 421 413 413 412.8 C405 412.8 400.5 419 401 426 C401.5 434 410 441.5 421 441.8 C431 442 440 437 449 431.5 C460 425 470 421 479 421.8 C483 422.2 485.5 424 487 426" fill="none" stroke="#a6737d" stroke-width="1.7"/><circle cx="420.7" cy="426.7" r="2.4" fill="#a6737d"/><path d="M432 440 C445 433 465 422 484 424.5 M434 441.5 C448 436 466 425 485 426.5 M436 443 C450 438 468 428 486 428.5" fill="none" stroke="#a6737d" stroke-width="0.8"/><path d="M454 413.5 C454.5 409.5 451 407.3 447 407.5 C442 408 439 411.5 439.8 416 C440.5 421 446 424 453.5 425 C458 425.5 462 424 466 422.5" fill="none" stroke="#a6737d" stroke-width="1.1"/><circle cx="449.6" cy="415.9" r="1.4" fill="#a6737d"/><path d="M443.3 442 C450 440 459 434 468 431.5 C467.3 434 466.5 436 466.7 437.5 C467 439.5 466.6 441 466.2 442 C465.5 440 464.5 438.5 463.3 438 C460 441.5 456 444 452 444.4 C449 444.6 446 443.6 443.3 442Z" fill="#a6737d"/><path d="M468 429.5 C477 425.5 486 426 489.5 431.5 C493.5 438 493.5 447 489.5 452.5 C486 456.5 479 455.5 476.8 450" fill="none" stroke="#a6737d" stroke-width="1.5"/><path d="M476.2 450 C475 444 478 440.3 482.5 440.3 C486.5 440.3 487.8 443.5 486.5 446 C485 448.8 481 449.3 478.5 447.8 C477.5 448.5 477.2 449.5 477.4 450.5Z" fill="#a6737d"/><path d="M490.3 424 C490.3 418 486.5 412.8 481 412.3 C478 412 476.5 413.5 476.2 415.8 C480.5 415.5 484.5 418.5 486.5 423.5Z" fill="#a6737d"/><path d="M314 547.5 L486 547.5 C487 550 487 552.5 485.6 554.8 C470 551.2 400 550.6 314 550.5Z" fill="#a6737d"/><path d="M418 570.5 C435 569 448 562.6 460 562.6 C470 562.6 478 565 483 567.5 C476 572.5 462 576.5 450 576.5 C438 576.5 427 573.5 418 570.5Z" fill="#a6737d"/><path d="M425 571.2 C445 571.5 465 566 481.5 567.4" fill="none" stroke="#fff" stroke-width="0.8"/><path d="M398.5 554.6 C403 564 412 570 424 573.5 C438 578 452 579 465 577.5 C475 576.5 481 574 484 571.5" fill="none" stroke="#a6737d" stroke-width="0.7"/><path d="M416 569.3 C433 568 447 561 460 561 C472 561 482 565 487 569 C491 572 492 576 489.5 578 C487 580 484 578 484.5 575.5" fill="none" stroke="#a6737d" stroke-width="0.8"/></g>
<path d="M495 402 C496.8 406 500.5 409 500.5 411.5 C500.5 415 497.6 421 497.4 425.6 L492.6 425.6 C492.4 421 489.5 415 489.5 411.5 C489.5 409 493.2 406 495 402Z" fill="#a6737d"/><path d="M495 427.8 L497.6 430.7 L495 433.6 L492.4 430.7Z" fill="#a6737d"/><path d="M495 454.3 L497.2 459 L495 465.7 L492.8 459Z" fill="#a6737d"/><circle cx="495" cy="471.7" r="2.8" fill="#a6737d"/><rect x="314" y="477.5" width="361.8" height="1.6" fill="#a6737d"/><rect x="314" y="542.9" width="361.8" height="1.6" fill="#a6737d"/><circle cx="495" cy="550" r="2.6" fill="#a6737d"/><path d="M495 556.8 L497 563 L495 567.8 L493 563Z" fill="#a6737d"/>
<text x="504" y="532.6" font-family="'Liberation Serif',serif" font-size="65" fill="#a6737d" stroke="#a6737d" stroke-width="0.6" text-anchor="middle" letter-spacing="12" textLength="321" lengthAdjust="spacingAndGlyphs">VENICE</text>
</svg>
</body></html>
